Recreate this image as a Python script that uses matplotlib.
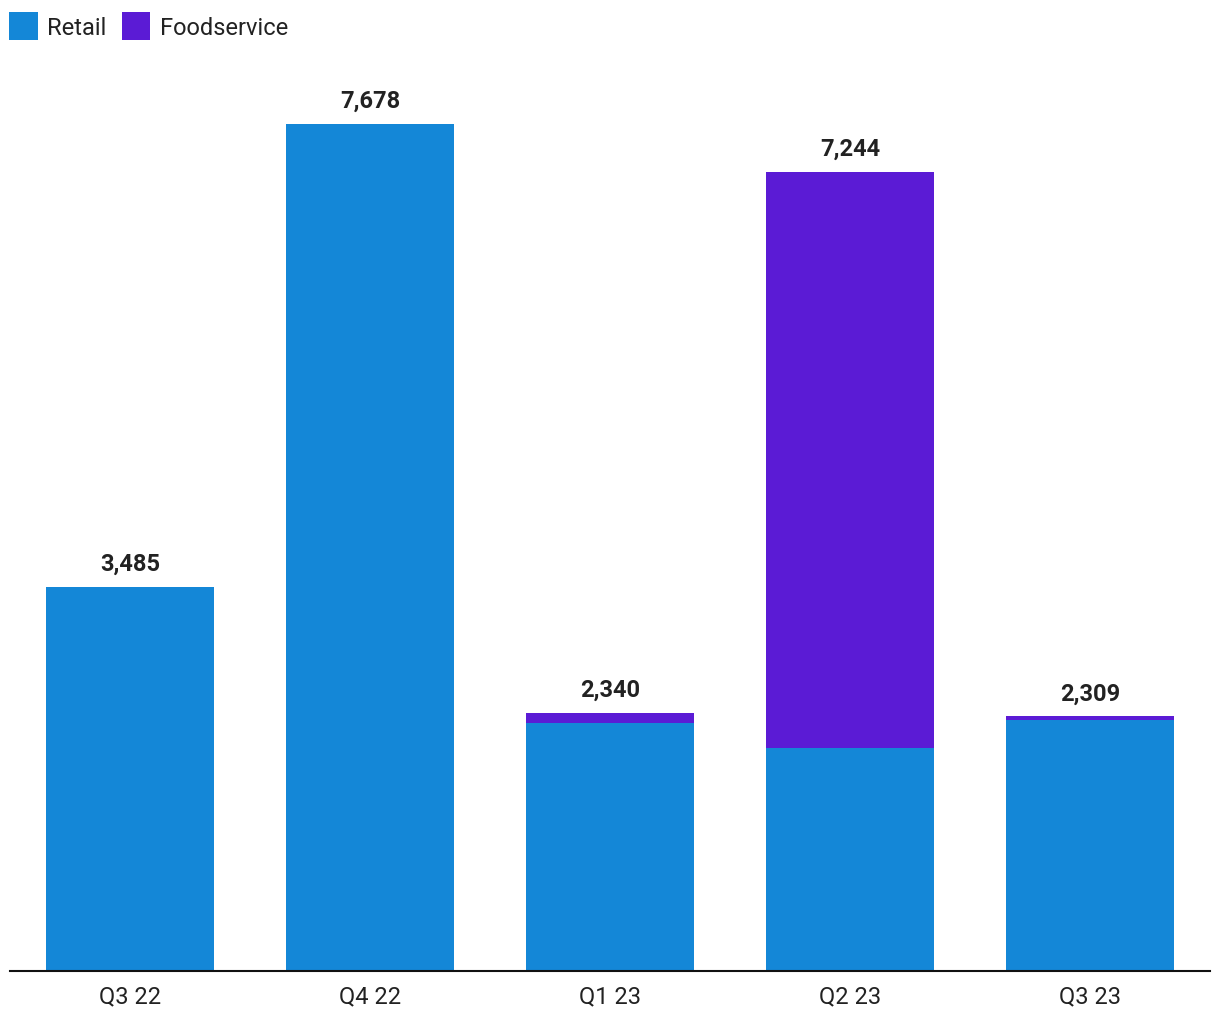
import matplotlib.pyplot as plt
import numpy as np

plt.rcParams['font.family'] = ['Roboto', 'DejaVu Sans']

quarters = ['Q3 22', 'Q4 22', 'Q1 23', 'Q2 23', 'Q3 23']
retail = [3477, 7678, 2245, 2024, 2277]
foodservice = [8, 0, 95, 5220, 32]
totals = ['3,485', '7,678', '2,340', '7,244', '2,309']

retail_color = '#1487d7'
food_color = '#5b1bd5'

fig = plt.figure(figsize=(12.2, 10.2), dpi=100)
ax = fig.add_axes([10 / 1220, 48 / 1020, 1200 / 1220, 913 / 1020])

x = np.arange(len(quarters))
ax.bar(x, retail, width=0.7, color=retail_color, label='Retail')
ax.bar(x, foodservice, width=0.7, bottom=retail, color=food_color, label='Foodservice')

for i in range(len(quarters)):
    top = retail[i] + foodservice[i]
    ax.annotate(totals[i], (x[i], top), xytext=(0, 8.5), textcoords='offset points',
                ha='center', va='bottom', fontsize=17, fontweight='bold', color='#222222')

ax.set_xlim(-0.5, len(quarters) - 0.5)
ax.set_ylim(0, 913 / (847 / 7678))
ax.set_xticks(x, quarters)
ax.tick_params(axis='x', length=0, labelsize=17, colors='#222222', pad=9.5)
ax.set_yticks([])
for side in ['top', 'left', 'right']:
    ax.spines[side].set_visible(False)
ax.spines['bottom'].set_linewidth(1.5)
ax.spines['bottom'].set_color('#111111')

fig.legend(loc='upper left', bbox_to_anchor=(0.0, 1.0 - 4 / 1020), ncol=2, frameon=False,
           fontsize=17, handlelength=1.2, handleheight=1.4, handletextpad=0.4,
           columnspacing=0.66, borderaxespad=0.0, labelcolor='#222222')

fig.savefig('out.png', dpi=100)
